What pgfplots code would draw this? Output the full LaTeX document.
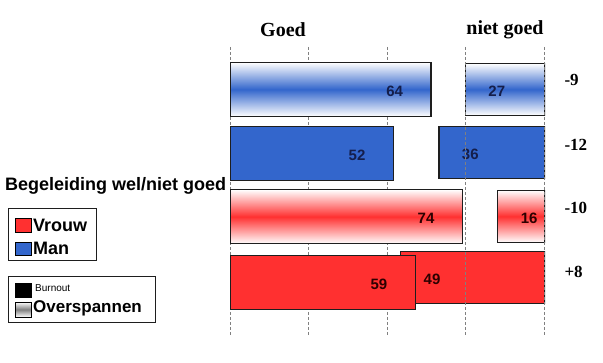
\documentclass[border=0pt]{standalone}
\usepackage{fontspec}
\setmainfont{Liberation Serif}
\setsansfont{Liberation Sans}
\usepackage{pgfplots}
\pgfplotsset{compat=1.18}
\definecolor{myblue}{RGB}{51,102,204}
\definecolor{myred}{RGB}{255,48,48}
\definecolor{navytxt}{RGB}{20,30,75}
\definecolor{redtxt}{RGB}{45,0,0}
\definecolor{edge}{RGB}{30,30,30}
\begin{document}
\begin{tikzpicture}
\path[use as bounding box] (0,0) rectangle (603pt,363pt);
% ---- niet goed (bars grow leftwards from the right edge)
\begin{axis}[at={(230pt,28pt)}, anchor=south west, scale only axis,
  width=315pt, height=288pt,
  xmin=0, xmax=107, x dir=reverse,
  ymin=0.34, ymax=4.82, y dir=reverse,
  hide axis, xbar, bar shift=0pt, bar width=52pt,
  /pgf/number format/assume math mode=true,
  nodes near coords,
  every node near coord/.append style={anchor=west, xshift=19pt, yshift=-2pt,
     font=\sffamily\bfseries\fontsize{15}{15}\selectfont}]
\addplot[draw=edge, line width=1.2pt, top color=white, bottom color=white, middle color=myblue,
  every node near coord/.append style={text=navytxt}] coordinates {(27,1)};
\addplot[draw=edge, line width=1.2pt, fill=myblue,
  every node near coord/.append style={text=navytxt}] coordinates {(36,1.98)};
\addplot[draw=edge, line width=1.2pt, top color=white, bottom color=white, middle color=myred,
  every node near coord/.append style={text=redtxt}] coordinates {(16,2.975)};
\addplot[draw=edge, line width=1.2pt, fill=myred,
  every node near coord/.append style={text=redtxt}] coordinates {(49,3.92)};
\end{axis}
% ---- goed
\begin{axis}[at={(230pt,28pt)}, anchor=south west, scale only axis,
  width=314pt, height=288pt,
  xmin=0, xmax=100,
  ymin=0.34, ymax=4.82, y dir=reverse,
  axis line style={draw=none}, tick style={draw=none},
  xtick={0,25,50,75,100}, xticklabels={}, ytick=\empty,
  xmajorgrids, grid style={densely dashed, gray, line width=0.8pt},
  xbar, bar shift=0pt, bar width=54pt,
  /pgf/number format/assume math mode=true,
  nodes near coords,
  every node near coord/.append style={anchor=east, xshift=-24pt, yshift=-2pt,
     font=\sffamily\bfseries\fontsize{15}{15}\selectfont}]
\addplot[draw=edge, line width=1.2pt, top color=white, bottom color=white, middle color=myblue,
  every node near coord/.append style={text=navytxt}] coordinates {(64,1)};
\addplot[draw=edge, line width=1.2pt, fill=myblue,
  every node near coord/.append style={text=navytxt}] coordinates {(52,2)};
\addplot[draw=edge, line width=1.2pt, top color=white, bottom color=white, middle color=myred,
  every node near coord/.append style={text=redtxt}] coordinates {(74,2.98)};
\addplot[draw=edge, line width=1.2pt, fill=myred,
  every node near coord/.append style={text=redtxt}] coordinates {(59,4)};
\end{axis}
% ---- headings
\node[font=\bfseries\fontsize{20}{20}\selectfont] at (283pt,333pt) {Goed};
\node[font=\bfseries\fontsize{20}{20}\selectfont] at (505pt,333pt) {niet goed};
% ---- differences
\begin{scope}[every node/.style={anchor=west, font=\bfseries\fontsize{17}{17}\selectfont}]
\node at (561pt,283pt) {-9};
\node at (561pt,218pt) {-12};
\node at (561pt,155pt) {-10};
\node at (561pt,91pt) {+8};
\end{scope}
% ---- left title and legends
\node[anchor=west, inner sep=0pt, font=\sffamily\bfseries\fontsize{18}{18}\selectfont] at (5pt,177pt) {Begeleiding wel/niet goed};
\draw[edge, line width=1pt] (8pt,102pt) rectangle (96pt,154pt);
\draw[black, line width=0.8pt, fill=myred] (15pt,131pt) rectangle (31pt,145pt);
\draw[black, line width=0.8pt, fill=myblue] (15pt,108pt) rectangle (31pt,121pt);
\node[anchor=west, inner sep=0pt, font=\sffamily\bfseries\fontsize{18}{18}\selectfont] at (33pt,138pt) {Vrouw};
\node[anchor=west, inner sep=0pt, font=\sffamily\bfseries\fontsize{18}{18}\selectfont] at (33pt,115pt) {Man};
\draw[edge, line width=1pt] (8pt,40pt) rectangle (155pt,86pt);
\draw[black, line width=0.8pt, fill=black] (15pt,66pt) rectangle (31pt,80pt);
\draw[black, line width=0.8pt, top color=white, bottom color=white, middle color=gray] (15pt,46pt) rectangle (31pt,61pt);
\node[anchor=west, inner sep=0pt, font=\sffamily\fontsize{10}{10}\selectfont] at (35pt,75pt) {Burnout};
\node[anchor=west, inner sep=0pt, font=\sffamily\bfseries\fontsize{17}{17}\selectfont] at (33pt,55pt) {Overspannen};
\end{tikzpicture}
\end{document}
